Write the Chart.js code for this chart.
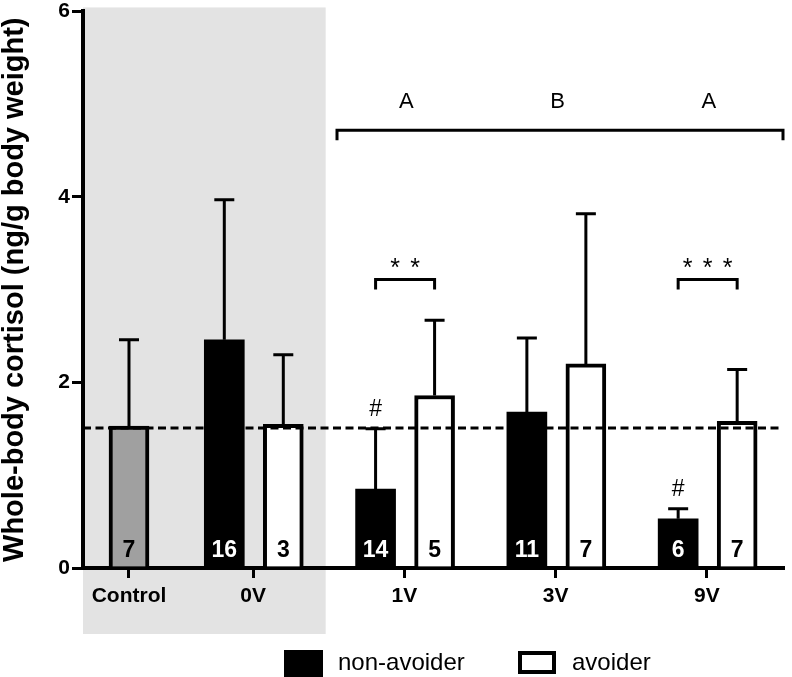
<!DOCTYPE html>
<html>
<head>
<meta charset="utf-8">
<script src="https://cdn.jsdelivr.net/npm/chart.js@4.4.1/dist/chart.umd.min.js"></script>
<style>
  html, body { margin: 0; padding: 0; background: #fff; }
</style>
</head>
<body>
<canvas id="c" width="792" height="677"></canvas>
<script>
const FONT = '"Liberation Sans", Arial, sans-serif';

// groups along the x axis
const categories = ['Control', '0V', '1V', '3V', '9V'];
const categoryX = [0.18, 1, 2, 3, 4];

// means, SD and n
const controlMean = [1.53];
const controlSD = [0.93];
const controlN = [7];

const nonAvoiderMean = [2.46, 0.85, 1.68, 0.53];
const nonAvoiderSD = [1.51, 0.65, 0.80, 0.11];
const nonAvoiderN = [16, 14, 11, 6];
const nonAvoiderHash = ['', '#', '', '#'];

const avoiderMean = [1.55, 1.86, 2.20, 1.58];
const avoiderSD = [0.75, 0.81, 1.62, 0.56];
const avoiderN = [3, 5, 7, 7];

const controlLevel = 1.51;           // dashed reference line
const groupLetters = ['', '', 'A', 'B', 'A'];
const sigStars = ['', '', '**', '', '***'];

const OFF_L = -0.19, OFF_R = 0.2;    // bar offsets inside a group

const decor = {
  id: 'decor',
  beforeDraw(chart) {
    const { ctx, scales: { x, y } } = chart;
    ctx.save();
    ctx.fillStyle = '#e3e3e3';
    const r = x.getPixelForValue(1.48);
    ctx.fillRect(x.left, y.top - 4, r - x.left, y.bottom + 66 - (y.top - 4));
    ctx.restore();
  },
  afterDatasetsDraw(chart) {
    const { ctx, scales: { x, y } } = chart;
    ctx.save();
    ctx.strokeStyle = '#000';
    ctx.fillStyle = '#000';
    ctx.lineWidth = 3;

    // error bars + n labels
    chart.data.datasets.forEach((ds, di) => {
      const meta = chart.getDatasetMeta(di);
      meta.data.forEach((el, i) => {
        const top = y.getPixelForValue(ds.data[i].y + ds.sd[i]);
        ctx.beginPath();
        ctx.moveTo(el.x, el.y);
        ctx.lineTo(el.x, top);
        ctx.moveTo(el.x - 10, top);
        ctx.lineTo(el.x + 10, top);
        ctx.stroke();

        ctx.font = 'bold 23px ' + FONT;
        ctx.textAlign = 'center';
        ctx.textBaseline = 'alphabetic';
        ctx.fillStyle = ds.nColor;
        ctx.fillText(String(ds.n[i]), el.x, y.bottom - 11);
        ctx.fillStyle = '#000';

        if (ds.hash && ds.hash[i]) {
          ctx.font = '23px ' + FONT;
          ctx.fillText(ds.hash[i], el.x, top - 13);
        }
      });
    });

    // dashed control level
    const yl = y.getPixelForValue(controlLevel);
    ctx.setLineDash([8, 4.5]);
    ctx.beginPath();
    ctx.moveTo(x.left, yl);
    ctx.lineTo(x.right, yl);
    ctx.stroke();
    ctx.setLineDash([]);

    // pairwise brackets with stars
    ctx.font = '25px ' + FONT;
    ctx.textAlign = 'center';
    ctx.textBaseline = 'alphabetic';
    sigStars.forEach((s, i) => {
      if (!s) return;
      const x1 = x.getPixelForValue(categoryX[i] + OFF_L);
      const x2 = x.getPixelForValue(categoryX[i] + OFF_R);
      const yb = y.getPixelForValue(3.11);
      ctx.beginPath();
      ctx.moveTo(x1, yb + 10);
      ctx.lineTo(x1, yb);
      ctx.lineTo(x2, yb);
      ctx.lineTo(x2, yb + 10);
      ctx.stroke();
      const cx = (x1 + x2) / 2;
      const ys = y.getPixelForValue(3.31) + 15;
      for (let k = 0; k < s.length; k++) {
        ctx.fillText('*', cx + (k - (s.length - 1) / 2) * 20, ys);
      }
    });

    // large bracket over the exposed groups
    const bx1 = x.getPixelForValue(1.555);
    const bx2 = x.right;
    const by = y.getPixelForValue(4.72);
    ctx.beginPath();
    ctx.moveTo(bx1, by + 10);
    ctx.lineTo(bx1, by);
    ctx.lineTo(bx2, by);
    ctx.lineTo(bx2, by + 10);
    ctx.stroke();

    ctx.font = '22px ' + FONT;
    groupLetters.forEach((l, i) => {
      if (!l) return;
      ctx.fillText(l, x.getPixelForValue(categoryX[i]) + 2, y.getPixelForValue(5.04) + 8);
    });
    ctx.restore();
  },
  afterDraw(chart) {
    // legend, only the two behaviour groups
    const { ctx } = chart;
    const na = chart.data.datasets[1], av = chart.data.datasets[2];
    ctx.save();
    ctx.fillStyle = na.backgroundColor;
    ctx.fillRect(284, 650, 39, 27);
    ctx.fillStyle = av.backgroundColor;
    ctx.fillRect(518, 651, 38, 23);
    ctx.strokeStyle = '#000';
    ctx.lineWidth = 4;
    ctx.strokeRect(520, 653, 34, 19);
    ctx.fillStyle = '#000';
    ctx.font = '24px ' + FONT;
    ctx.textAlign = 'left';
    ctx.textBaseline = 'middle';
    ctx.fillText(na.label, 338, 663);
    ctx.fillText(av.label, 572, 663);
    ctx.restore();
  }
};

new Chart(document.getElementById('c'), {
  type: 'bar',
  data: {
    datasets: [
      {
        label: 'Control',
        data: controlMean.map(v => ({ x: categoryX[0], y: v })),
        sd: controlSD, n: controlN, nColor: '#000',
        backgroundColor: '#a0a0a0', borderColor: '#000', borderWidth: 4
      },
      {
        label: 'non-avoider',
        data: nonAvoiderMean.map((v, i) => ({ x: categoryX[i + 1] + OFF_L, y: v })),
        sd: nonAvoiderSD, n: nonAvoiderN, nColor: '#fff', hash: nonAvoiderHash,
        backgroundColor: '#000', borderColor: '#000', borderWidth: 0
      },
      {
        label: 'avoider',
        data: avoiderMean.map((v, i) => ({ x: categoryX[i + 1] + OFF_R, y: v })),
        sd: avoiderSD, n: avoiderN, nColor: '#000',
        backgroundColor: '#fff', borderColor: '#000', borderWidth: 4
      }
    ]
  },
  options: {
    responsive: false,
    animation: false,
    layout: { padding: { top: 10, right: 9, left: 0, bottom: 0 } },
    datasets: { bar: { grouped: false, barThickness: 40, borderSkipped: 'start' } },
    plugins: { legend: { display: false }, tooltip: { enabled: false } },
    scales: {
      x: {
        type: 'linear',
        offset: false,
        min: -0.124,
        max: 4.503,
        afterBuildTicks: s => { s.ticks = categoryX.map(v => ({ value: v })); },
        afterFit: s => { s.height = 109; },
        ticks: {
          callback: (v, i) => categories[i],
          font: { family: FONT, size: 21, weight: 'bold' },
          color: '#000', padding: 6, autoSkip: false, maxRotation: 0
        },
        grid: { offset: false, drawOnChartArea: false, drawTicks: true, tickLength: 10, color: '#000', lineWidth: 3 },
        border: { display: true, color: '#000', width: 4 }
      },
      y: {
        min: 0,
        max: 6,
        afterFit: s => { s.width = 83; },
        ticks: {
          stepSize: 2,
          font: { family: FONT, size: 21, weight: 'bold', lineHeight: 0.9 },
          color: '#000', padding: 2
        },
        grid: { drawOnChartArea: false, drawTicks: true, tickLength: 11, color: '#000', lineWidth: 3 },
        border: { display: true, color: '#000', width: 4 },
        title: {
          display: true,
          text: 'Whole-body cortisol (ng/g body weight)',
          font: { family: FONT, size: 29, weight: 'bold', lineHeight: 1 },
          color: '#000',
          padding: { top: 0, bottom: 0 }
        }
      }
    }
  },
  plugins: [decor]
});
</script>
</body>
</html>
